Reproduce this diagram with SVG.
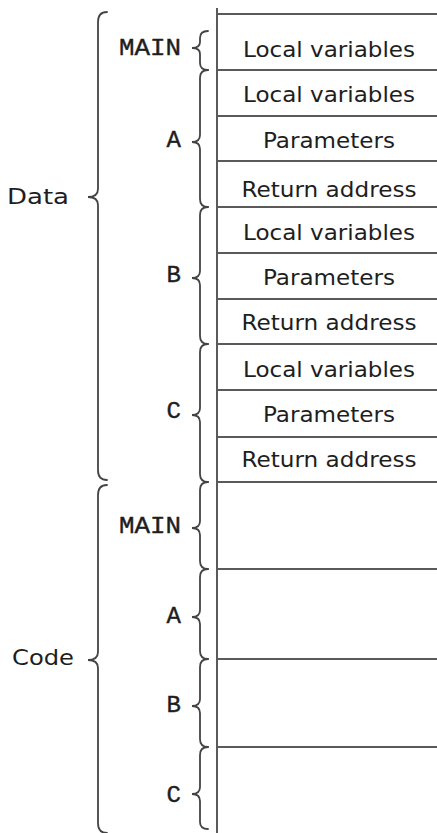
<svg xmlns="http://www.w3.org/2000/svg" width="437" height="833" viewBox="0 0 437 833">
<style>
.bg{fill:#ffffff}
.ln{stroke:#5a5a5a;stroke-width:2;fill:none}
.br{stroke:#444;stroke-width:1.8;fill:none;stroke-linecap:round}
.cell{font-family:"DejaVu Sans","Liberation Sans",sans-serif;font-size:21px;fill:#1e1e1e;text-anchor:middle}
.big{font-family:"DejaVu Sans","Liberation Sans",sans-serif;font-size:21px;fill:#1e1e1e}
.mono{font-family:"Liberation Mono","Courier New",monospace;font-size:24px;fill:#1e1e1e;stroke:#1e1e1e;stroke-width:0.4;text-anchor:end}
</style>
<rect class="bg" x="0" y="0" width="437" height="833"/>
<g id="table">
<line class="ln" x1="217" y1="8" x2="217" y2="833"/>
<line class="ln" x1="217" y1="14" x2="437" y2="14"/>
<line class="ln" x1="217" y1="70" x2="437" y2="70"/>
<line class="ln" x1="217" y1="116" x2="437" y2="116"/>
<line class="ln" x1="217" y1="161" x2="437" y2="161"/>
<line class="ln" x1="217" y1="207" x2="437" y2="207"/>
<line class="ln" x1="217" y1="253" x2="437" y2="253"/>
<line class="ln" x1="217" y1="299" x2="437" y2="299"/>
<line class="ln" x1="217" y1="344" x2="437" y2="344"/>
<line class="ln" x1="217" y1="390" x2="437" y2="390"/>
<line class="ln" x1="217" y1="437" x2="437" y2="437"/>
<line class="ln" x1="217" y1="482" x2="437" y2="482"/>
<line class="ln" x1="217" y1="569" x2="437" y2="569"/>
<line class="ln" x1="217" y1="659" x2="437" y2="659"/>
<line class="ln" x1="217" y1="747" x2="437" y2="747"/>
</g>
<g id="cells">
<text class="cell" x="329" y="57" textLength="172" lengthAdjust="spacingAndGlyphs">Local variables</text>
<text class="cell" x="329" y="102" textLength="172" lengthAdjust="spacingAndGlyphs">Local variables</text>
<text class="cell" x="329" y="148" textLength="132" lengthAdjust="spacingAndGlyphs">Parameters</text>
<text class="cell" x="329" y="197" textLength="175" lengthAdjust="spacingAndGlyphs">Return address</text>
<text class="cell" x="329" y="240" textLength="172" lengthAdjust="spacingAndGlyphs">Local variables</text>
<text class="cell" x="329" y="285" textLength="132" lengthAdjust="spacingAndGlyphs">Parameters</text>
<text class="cell" x="329" y="330" textLength="175" lengthAdjust="spacingAndGlyphs">Return address</text>
<text class="cell" x="329" y="377" textLength="172" lengthAdjust="spacingAndGlyphs">Local variables</text>
<text class="cell" x="329" y="422" textLength="132" lengthAdjust="spacingAndGlyphs">Parameters</text>
<text class="cell" x="329" y="467" textLength="175" lengthAdjust="spacingAndGlyphs">Return address</text>
</g>
<g id="data">
<path class="br" d="M107,12 Q98,12 98,22 L98,189 Q98,197 88,197 Q98,197 98,205 L98,470 Q98,480 107,480"/>
<text class="big" x="7" y="204" textLength="62" lengthAdjust="spacingAndGlyphs">Data</text>
</g>
<g id="code">
<path class="br" d="M107,485 Q98,485 98,495 L98,652 Q98,660 88,660 Q98,660 98,668 L98,823 Q98,833 107,833"/>
<text class="big" x="12" y="665" textLength="62" lengthAdjust="spacingAndGlyphs">Code</text>
</g>
<g id="data-main">
<path class="br" d="M208,31 Q200,31 200,38 L200,42 Q200,48 192,48 Q200,48 200,54 L200,63 Q200,70 208,70"/>
<text class="mono" x="181" y="55" textLength="62" lengthAdjust="spacingAndGlyphs">MAIN</text>
</g>
<g id="data-a">
<path class="br" d="M208,70 Q200,70 200,78 L200,135 Q200,142 192,142 Q200,142 200,149 L200,199 Q200,207 208,207"/>
<text class="mono" x="181" y="147">A</text>
</g>
<g id="data-b">
<path class="br" d="M208,207 Q200,207 200,215 L200,271 Q200,278 192,278 Q200,278 200,285 L200,336 Q200,344 208,344"/>
<text class="mono" x="181" y="282">B</text>
</g>
<g id="data-c">
<path class="br" d="M208,344 Q200,344 200,352 L200,408 Q200,415 192,415 Q200,415 200,422 L200,474 Q200,482 208,482"/>
<text class="mono" x="181" y="418">C</text>
</g>
<g id="code-main">
<path class="br" d="M208,482 Q200,482 200,490 L200,521 Q200,528 192,528 Q200,528 200,535 L200,561 Q200,569 208,569"/>
<text class="mono" x="181" y="533" textLength="62" lengthAdjust="spacingAndGlyphs">MAIN</text>
</g>
<g id="code-a">
<path class="br" d="M208,569 Q200,569 200,577 L200,610 Q200,617 192,617 Q200,617 200,624 L200,651 Q200,659 208,659"/>
<text class="mono" x="181" y="623">A</text>
</g>
<g id="code-b">
<path class="br" d="M208,659 Q200,659 200,667 L200,699 Q200,706 192,706 Q200,706 200,713 L200,739 Q200,747 208,747"/>
<text class="mono" x="181" y="712">B</text>
</g>
<g id="code-c">
<path class="br" d="M208,747 Q200,747 200,755 L200,787 Q200,794 192,794 Q200,794 200,801 L200,822 Q200,829 208,829"/>
<text class="mono" x="181" y="802">C</text>
</g>
</svg>
